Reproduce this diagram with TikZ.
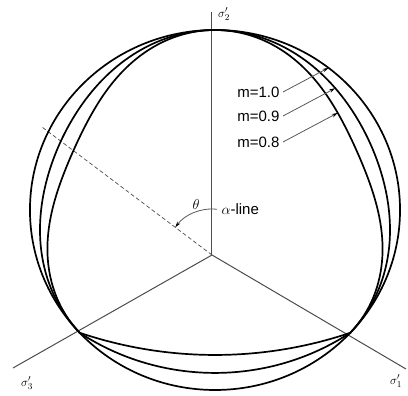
\documentclass[tikz,border=0pt]{standalone}
\usepackage{fontspec}
\setmainfont{Liberation Sans}
\usetikzlibrary{arrows.meta,intersections}

\begin{document}
\begin{tikzpicture}[x=1pt, y=1pt,
    font=\fontsize{15}{18}\selectfont,
    axis/.style={draw=black!70, line width=1pt},
    yield/.style={line width=1.7pt, line join=round},
    pointer/.style={draw=black!65, line width=0.8pt, -{Stealth[length=6pt,width=3.5pt,black]}},
    sigma/.style={font=\fontsize{13}{15}\selectfont},
    declare function={gap(\u,\a)=\a*sin(180*\u)*sin(180*\u);}]
    \useasboundingbox (-215,-186) rectangle (193,210);

    \coordinate (O) at (-3,-45);
    \coordinate (s2) at (-3,198);
    \coordinate (s3) at (-202,-158);
    \coordinate (s1) at (191,-159);
    \coordinate (aend) at (-173,83);

    \draw[axis] (O) -- (s2);
    \draw[axis] (O) -- (s3);
    \draw[axis] (O) -- (s1);
    \draw[black!70, line width=0.7pt, dash pattern=on 4pt off 2.5pt] (O) -- (aend);

    \begin{scope}[xscale=1.028]
        \draw[yield, name path global=c10] (0,0) circle[radius=180];
        \draw[yield, name path global=c09]
            plot[domain=-43:90, samples=80] (\x:{180-gap((\x+43)/133,15)})
            -- plot[domain=90:223, samples=80] (\x:{180-gap((223-\x)/133,15)})
            arc[start angle=-123.96, end angle=-56.04, radius=235.6] -- cycle;
        \draw[yield, name path global=c08]
            plot[domain=-43:90, samples=80] (\x:{180-gap((\x+43)/133,30)})
            -- plot[domain=90:223, samples=80] (\x:{180-gap((223-\x)/133,30)})
            arc[start angle=-109.15, end angle=-70.85, radius=401.4] -- cycle;
    \end{scope}

    \node[sigma] (lab2) at (9,196) {$\sigma'_2$};
    \node[sigma] (lab3) at (-188,-173) {$\sigma'_3$};
    \node[sigma] (lab1) at (181,-171) {$\sigma'_1$};

    \node[anchor=east] (m10) at (68,118) {m=1.0};
    \node[anchor=east] (m09) at (68,94) {m=0.9};
    \node[anchor=east] (m08) at (68,68) {m=0.8};
    \path[name path=ray10] (m10.east) -- ++(28:140);
    \path[name path=ray09] (m09.east) -- ++(28:140);
    \path[name path=ray08] (m08.east) -- ++(28:140);
    \draw[pointer, name intersections={of=ray10 and c10, name=i10}] (m10.east) -- (i10-1);
    \draw[pointer, name intersections={of=ray09 and c09, name=i09}] (m09.east) -- (i09-1);
    \draw[pointer, name intersections={of=ray08 and c08, name=i08}] (m08.east) -- (i08-1);

    \node (theta) at (-19,5) {$\theta$};
    \node[anchor=west] (aline) at (3,1) {$\alpha$-line};
    \draw[pointer] (O) ++(84:46) arc[start angle=84, end angle=143, radius=46];
\end{tikzpicture}
\end{document}
